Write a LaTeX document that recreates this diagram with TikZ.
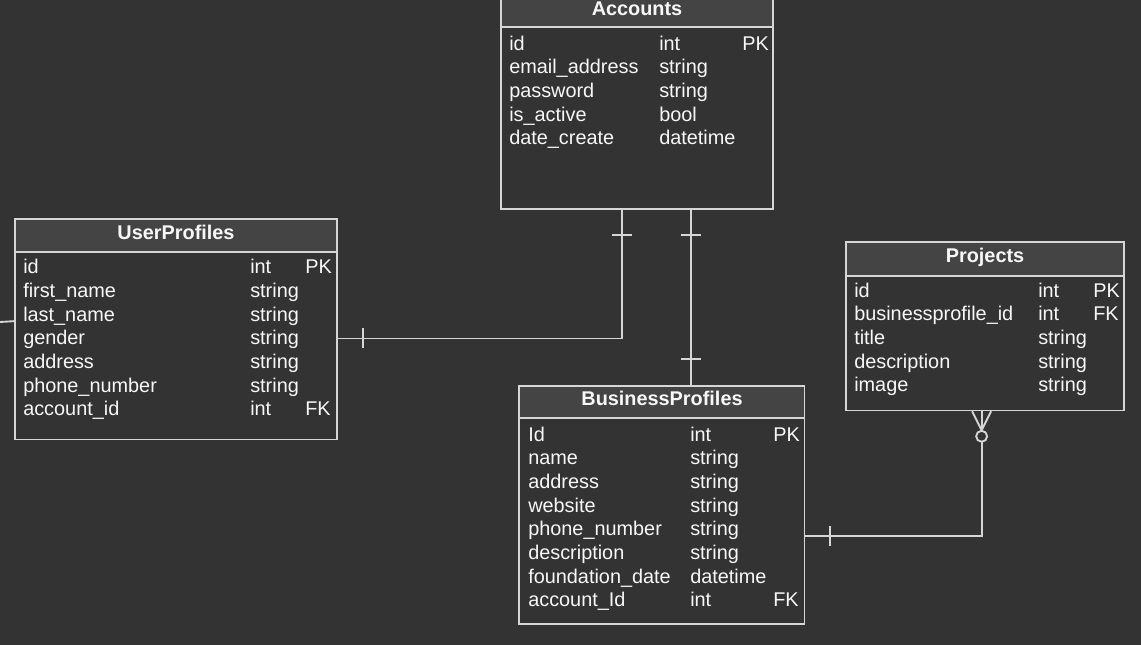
\documentclass[tikz,border=0pt]{standalone}
\usepackage{fontspec}
\setmainfont{Liberation Sans}
\usetikzlibrary{fit,calc}
\definecolor{bgc}{HTML}{333333}
\definecolor{hdrc}{HTML}{444444}
\definecolor{linec}{HTML}{D6D6D6}
\definecolor{txtc}{HTML}{F7F7F7}

\begin{document}
\begin{tikzpicture}[x=0.75pt,y=-0.75pt,
  tbl/.style={draw=linec, line width=1.3pt, fill=bgc, inner sep=0pt},
  hdr/.style={draw=linec, line width=1.3pt, fill=hdrc, inner sep=0pt},
  ttl/.style={anchor=base, font=\fontsize{14.9}{17}\selectfont\bfseries, text=txtc, inner sep=0pt},
  cell/.style={anchor=base west, font=\fontsize{14.9}{17}\selectfont, text=txtc, inner sep=0pt},
  rel/.style={draw=linec, line width=1.4pt},
]
\useasboundingbox (0,0) rectangle (1141,644);
\fill[bgc] (-10,-10) rectangle (1151,654);

% ---------- Accounts ----------
\node[tbl, fit={(501,-6) (773,209)}] (acc) {};
\node[hdr, fit={(501,-6) (773,27.3)}] (acch) {};
\node[ttl] (acct) at (637,15) {Accounts};
\foreach \n/\t/\k [count=\i from 0] in {id/int/PK, email\_address/string/, password/string/, is\_active/bool/, date\_create/datetime/}{
  \node[cell] (acc-n\i) at (509,50+\i*23.7) {\n};
  \node[cell] (acc-t\i) at (659,50+\i*23.7) {\t};
  \node[cell] (acc-k\i) at (742,50+\i*23.7) {\k};
}

% ---------- UserProfiles ----------
\node[tbl, fit={(15,219.3) (336.7,439.4)}] (usr) {};
\node[hdr, fit={(15,219.3) (336.7,252.3)}] (usrh) {};
\node[ttl] (usrt) at (176,239.6) {UserProfiles};
\foreach \n/\t/\k [count=\i from 0] in {id/int/PK, first\_name/string/, last\_name/string/, gender/string/, address/string/, phone\_number/string/, account\_id/int/FK}{
  \node[cell] (usr-n\i) at (23,273.6+\i*23.7) {\n};
  \node[cell] (usr-t\i) at (250,273.6+\i*23.7) {\t};
  \node[cell] (usr-k\i) at (305,273.6+\i*23.7) {\k};
}

% ---------- Projects ----------
\node[tbl, fit={(846,242.3) (1124,410.4)}] (prj) {};
\node[hdr, fit={(846,242.3) (1124,275.7)}] (prjh) {};
\node[ttl] (prjt) at (985,262) {Projects};
\foreach \n/\t/\k [count=\i from 0] in {id/int/PK, businessprofile\_id/int/FK, title/string/, description/string/, image/string/}{
  \node[cell] (prj-n\i) at (854,297+\i*23.7) {\n};
  \node[cell] (prj-t\i) at (1038,297+\i*23.7) {\t};
  \node[cell] (prj-k\i) at (1093,297+\i*23.7) {\k};
}

% ---------- BusinessProfiles ----------
\node[tbl, fit={(519,385.7) (804.5,624)}] (biz) {};
\node[hdr, fit={(519,385.7) (804.5,418.3)}] (bizh) {};
\node[ttl] (bizt) at (662,405.8) {BusinessProfiles};
\foreach \n/\t/\k [count=\i from 0] in {Id/int/PK, name/string/, address/string/, website/string/, phone\_number/string/, description/string/, foundation\_date/datetime/, account\_Id/int/FK}{
  \node[cell] (biz-n\i) at (528,441+\i*23.7) {\n};
  \node[cell] (biz-t\i) at (690,441+\i*23.7) {\t};
  \node[cell] (biz-k\i) at (773,441+\i*23.7) {\k};
}

% ---------- relations ----------
% Accounts 1 -- 1 UserProfiles
\coordinate (a1) at ($(acc.south west)+(122,0)$);
\coordinate (u1) at ($(usr.north east)+(0,120)$);
\draw[rel] (a1) |- (u1);
\draw[rel] ($(a1)+(-10,25)$) -- ($(a1)+(10,25)$);
\draw[rel] ($(u1)+(25,-10)$) -- ($(u1)+(25,10)$);

% Accounts 1 -- 1 BusinessProfiles
\coordinate (a2) at ($(acc.south west)+(191,0)$);
\coordinate (b2) at ($(biz.north west)+(173,0)$);
\draw[rel] (a2) -- (b2);
\draw[rel] ($(a2)+(-10,25)$) -- ($(a2)+(10,25)$);
\draw[rel] ($(b2)+(-10,-25.7)$) -- ($(b2)+(10,-25.7)$);

% BusinessProfiles 1 -- 0..n Projects
\coordinate (b3) at ($(biz.north east)+(0,151)$);
\coordinate (p3) at ($(prj.south west)+(136.5,0)$);
\draw[rel] (b3) -| ($(p3)+(0,30.5)$);
\draw[rel] ($(p3)+(0,19.5)$) -- (p3);
\draw[rel] ($(b3)+(24.5,-10)$) -- ($(b3)+(24.5,10)$);
\draw[rel] ($(p3)+(-9.5,0)$) -- ($(p3)+(0,19)$) -- ($(p3)+(9.5,0)$);
\draw[rel, fill=bgc] ($(p3)+(0,25)$) circle[radius=5.5*0.75pt];

% link entering UserProfiles from the left
\coordinate (lx) at (0,322);
\draw[rel] (lx) -- ($(usr.north west)+(0,102.7)$);
\end{tikzpicture}
\end{document}
